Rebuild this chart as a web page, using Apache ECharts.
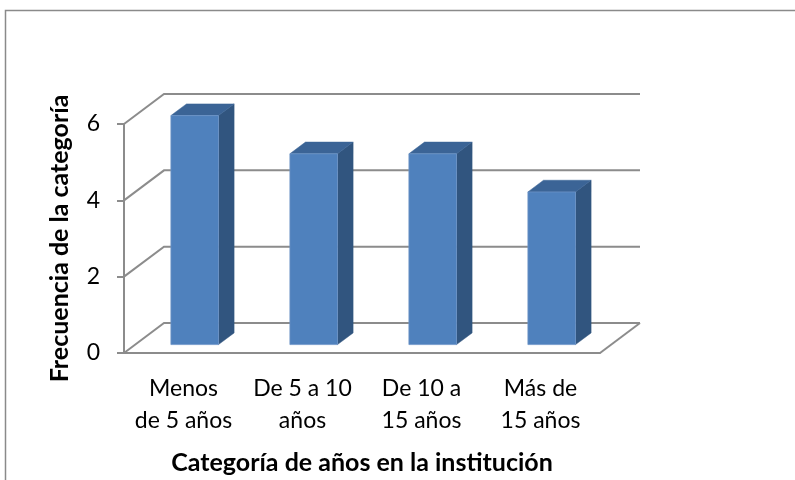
<!DOCTYPE html>
<html>
	<head>
		<meta charset="utf-8">
		<title></title>
		<script src="https://cdn.jsdelivr.net/npm/echarts@6/dist/echarts.min.js" type="text/javascript" charset="utf-8"></script>
		<style>
			html, body { margin: 0; padding: 0; background: #fff; }
		</style>
	</head>
	<body>
		<div id="mainChart" style="width: 795px;height:480px;"></div>
		<script type="text/javascript">
			// datos del gráfico
			var categories = ['Menos\nde 5 años', 'De 5 a 10\naños', 'De 10 a\n15 años', 'Más de\n15 años'];
			var frequencies = [6, 5, 5, 4];
			var yTicks = [0, 2, 4, 6];

			// profundidad del efecto 3D (px)
			var DX = 40, DY = -30;
			var barFront = 0.28, barDepth = 0.39;
			var lineColor = '#8c8c8c';
			var font = 'Lato, "Open Sans", sans-serif';

			var dom = document.getElementById("mainChart");
			var myChart = echarts.init(dom);

			// paredes y lineas de la cuadricula 3D
			function renderWalls(params, api) {
				var cs = params.coordSys;
				var y = api.coord([0, api.value(0)])[1];
				var children = [{
					type: 'polyline',
					shape: { points: [[cs.x, y], [cs.x + DX, y + DY], [cs.x + cs.width + DX, y + DY]] },
					style: { stroke: lineColor, lineWidth: 2, fill: null }
				}];
				if (api.value(0) === 0) {
					children.push({
						type: 'line',
						shape: { x1: cs.x + cs.width, y1: y, x2: cs.x + cs.width + DX, y2: y + DY },
						style: { stroke: lineColor, lineWidth: 2 }
					});
				}
				return { type: 'group', children: children };
			}

			// barras con caras frontal, lateral y superior
			function renderBar(params, api) {
				var idx = api.value(0);
				var base = api.coord([idx, 0]);
				var top = api.coord([idx, api.value(1)]);
				var bw = api.size([1, 0])[0] * 0.4;
				var ox = DX * barFront, oy = DY * barFront;
				var dx = DX * barDepth, dy = DY * barDepth;
				var x0 = base[0] - bw / 2 + ox, x1 = x0 + bw;
				var yt = top[1] + oy, yb = base[1] + oy;
				return {
					type: 'group',
					children: [{
						type: 'polygon',
						shape: { points: [[x1, yt], [x1 + dx, yt + dy], [x1 + dx, yb + dy], [x1, yb]] },
						style: { fill: '#31557f', stroke: '#31557f', lineWidth: 0.5 }
					}, {
						type: 'polygon',
						shape: { points: [[x0, yt], [x0 + dx, yt + dy], [x1 + dx, yt + dy], [x1, yt]] },
						style: { fill: '#3b6496', stroke: '#3b6496', lineWidth: 0.5 }
					}, {
						type: 'rect',
						shape: { x: x0, y: yt, width: bw, height: yb - yt },
						style: { fill: '#4f81bd', stroke: '#6f95c8', lineWidth: 0.8 }
					}]
				};
			}

			var option = {
				backgroundColor: '#fff',
				animation: false,
				graphic: [{
					type: 'rect',
					shape: { x: 5.5, y: 10.5, width: 800, height: 480 },
					style: { fill: null, stroke: '#8a8a8a', lineWidth: 1.5 }
				}],
				grid: { left: 124, top: 124, width: 476, height: 229 },
				xAxis: {
					type: 'category',
					data: categories,
					boundaryGap: true,
					name: 'Categoría de años en la institución',
					nameLocation: 'middle',
					nameGap: 97,
					nameTextStyle: { fontFamily: font, fontSize: 25, fontWeight: 'bold', color: '#000' },
					axisLine: { lineStyle: { color: lineColor, width: 2 } },
					axisTick: { length: 7, interval: 0, lineStyle: { color: lineColor, width: 2 } },
					axisLabel: { interval: 0, margin: 20, fontFamily: font, fontSize: 23, lineHeight: 32, color: '#000' },
					splitLine: { show: false }
				},
				yAxis: {
					type: 'value',
					min: 0,
					max: 6,
					interval: 2,
					name: 'Frecuencia de la categoría',
					nameLocation: 'middle',
					nameGap: 52,
					nameRotate: 90,
					nameTextStyle: { fontFamily: font, fontSize: 25, fontWeight: 'bold', color: '#000' },
					axisLine: { show: true, lineStyle: { color: lineColor, width: 2 } },
					axisTick: { show: true, length: 7, lineStyle: { color: lineColor, width: 2 } },
					axisLabel: { margin: 24, fontFamily: font, fontSize: 23, color: '#000' },
					splitLine: { show: false }
				},
				series: [{
					type: 'custom',
					renderItem: renderWalls,
					data: yTicks.map(function (v) { return [v]; }),
					encode: { y: 0 },
					z: 1,
					silent: true
				}, {
					type: 'custom',
					renderItem: renderBar,
					data: frequencies.map(function (v, i) { return [i, v]; }),
					encode: { x: 0, y: 1 },
					z: 3
				}]
			};
			myChart.setOption(option, true);
		</script>
	</body>
</html>
